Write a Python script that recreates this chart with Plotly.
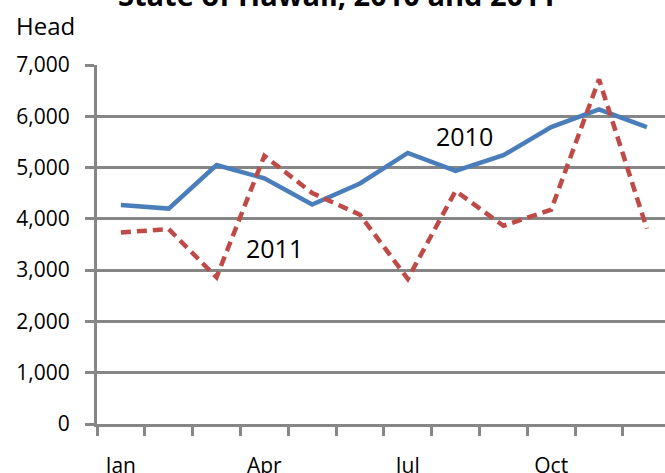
import plotly.graph_objects as go

months = ["Jan", "Feb", "Mar", "Apr", "May", "Jun", "Jul", "Aug", "Sep", "Oct", "Nov", "Dec"]
tick_labels = ["Jan", "Apr", "Jul", "Oct"]
head_2010 = [4270, 4200, 5050, 4790, 4280, 4690, 5285, 4935, 5240, 5790, 6134, 5790]
head_2011 = [3735, 3800, 2860, 5230, 4505, 4080, 2830, 4545, 3865, 4180, 6720, 3810]
y_ticks = [0, 1000, 2000, 3000, 4000, 5000, 6000, 7000]

GRAY = "#868686"
FONT = "Open Sans"
xs = list(range(len(months)))

fig = go.Figure()
fig.add_trace(go.Scatter(x=xs, y=head_2010, mode="lines", name="2010",
                         line=dict(color="#4a7ebb", width=4.5), showlegend=False))
fig.add_trace(go.Scatter(x=xs, y=head_2011, mode="lines", name="2011",
                         line=dict(color="#be4b48", width=4.5, dash="10px,6px"), showlegend=False))

fig.update_layout(
    width=665, height=473,
    margin=dict(l=97, r=0, t=64.5, b=48.7),
    paper_bgcolor="white", plot_bgcolor="white",
    font=dict(family=FONT, color="black", size=21),
    xaxis=dict(
        range=[-0.5, 11.38], automargin=False,
        tickmode="array",
        tickvals=[xs[months.index(m)] for m in tick_labels],
        ticktext=tick_labels,
        ticks="", showgrid=False, zeroline=False,
        showline=True, linecolor=GRAY, linewidth=3,
        ticklabelstandoff=21,
        tickfont=dict(family=FONT, size=21),
        minor=dict(tickmode="linear", tick0=-0.5, dtick=1, ticks="outside",
                   ticklen=9, tickwidth=3, tickcolor=GRAY, showgrid=False),
    ),
    yaxis=dict(
        range=[0, 7000], automargin=False,
        tickmode="array", tickvals=y_ticks,
        ticktext=[f"{v:,}" for v in y_ticks],
        ticks="outside", ticklen=9, tickwidth=3, tickcolor=GRAY,
        showgrid=True, gridcolor=GRAY, gridwidth=3,
        zeroline=False, showline=True, linecolor=GRAY, linewidth=3,
        ticklabelstandoff=11,
        tickfont=dict(family=FONT, size=21),
    ),
    annotations=[
        dict(text="<b>State of Hawaii, 2010 and 2011</b>", xref="paper", yref="paper",
             x=(336.5 - 97) / 568, y=1 + (64.5 - 15.5) / 359.8, xanchor="center", yanchor="bottom",
             showarrow=False, font=dict(family=FONT, size=29, color="black")),
        dict(text="Head", xref="paper", yref="paper",
             x=(45 - 97) / 568, y=1 + (64.5 - 25) / 359.8, xanchor="center", yanchor="middle",
             showarrow=False, font=dict(family=FONT, size=24, color="black")),
        dict(text="2010", xref="x", yref="y", x=7.18, y=5609, showarrow=False,
             xanchor="center", yanchor="middle", font=dict(family=FONT, size=25, color="black")),
        dict(text="2011", xref="x", yref="y", x=3.22, y=3430, showarrow=False,
             xanchor="center", yanchor="middle", font=dict(family=FONT, size=25, color="black")),
    ],
)

fig.write_html("out.html", config={"displayModeBar": False},
               post_script="document.body.style.margin='0px';")
